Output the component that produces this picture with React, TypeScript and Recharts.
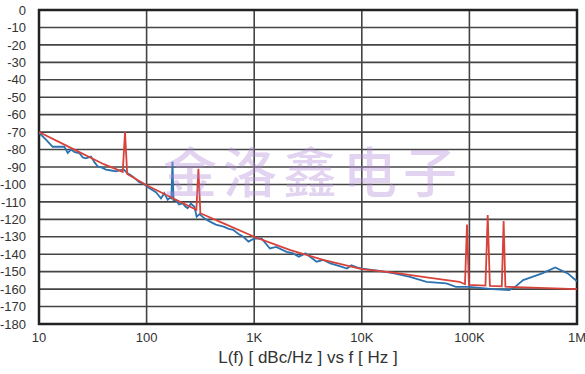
import React from 'react';
import { LineChart, Line, XAxis, YAxis, CartesianGrid, ReferenceArea, Label } from 'recharts';

// offset frequency (Hz) and measured phase noise (dBc/Hz)
const blueFreq = [
    10, 11.5, 13.4, 17.2, 18.5, 19.8, 21.5, 23.7, 25.5, 27.3, 30.4, 33, 35, 38, 41.9, 47, 52, 57, 61.6, 66, 71.5, 78, 85.4, 93,
    102, 112, 122, 130, 136, 146, 157, 165,
    170, 174, 178, 188, 200, 216, 228, 240, 258, 278, 292, 310, 324, 355, 388, 440, 519, 580, 637, 720, 793, 885, 1000, 1170, 1400, 1600,
    2000, 2300, 2600, 3000, 3400, 3800, 4400, 5100, 6000, 7300, 8000, 9000, 10000, 14600, 20000, 28000, 40000, 61000, 75000, 100000,
    165000, 235000, 266000, 316000, 475000, 628000, 820000, 1000000
];
const blueVal = [
    -70.5, -74, -78.4, -78.4, -82, -80, -81.5, -82, -84.5, -85, -84, -87.5, -89.6, -90.2, -91.5, -92, -92.5, -91.8, -91.5, -93.5, -94.8, -96.5, -98.7, -99.5,
    -101.5, -103, -104.4, -106.5, -108, -105, -108.8, -107.5,
    -108, -87, -109, -109, -111.5, -110.8, -112.5, -113.6, -111, -112.8, -118.5, -117, -118, -120, -121.3, -123, -124.2, -125.5, -126, -128.5, -130, -132.8, -131, -131, -136.7, -135.8,
    -138.6, -139.5, -141.4, -139.5, -142, -144.3, -143.3, -145.3, -146.5, -148.2, -146.3, -147.5, -148.2, -149.5, -151, -153, -155.8, -156.7, -158.7, -158.7,
    -160, -160.5, -158.7, -154.8, -151, -147.6, -151, -155.5
];

// spec / limit curve with spurs
const redFreq = [
    10, 20, 40, 60, 63, 66, 100, 290, 303, 316, 519, 1000, 2170, 4370, 10000, 19700, 40000, 81000,
    91000, 95000, 99000, 141000, 148000, 155000, 200000, 208000, 216000, 235000, 1000000
];
const redVal = [
    -70, -79.2, -88.4, -92.8, -70, -94, -100.5, -114.5, -91, -116.5, -122.3, -130, -137.6, -143.3, -148.5, -150.5, -153.3, -155.8,
    -157.2, -123, -157.6, -158, -117.5, -158.2, -158.4, -121, -158.6, -158.7, -160
];

const xTicks = [10, 100, 1000, 10000, 100000, 1000000];
const xTickLabels = ['10', '100', '1K', '10K', '100K', '1M'];
const yTicks = [0, -10, -20, -30, -40, -50, -60, -70, -80, -90, -100, -110, -120, -130, -140, -150, -160, -170, -180];

const blueData = blueFreq.map((f, i) => ({ f, v: blueVal[i] }));
const redData = redFreq.map((f, i) => ({ f, v: redVal[i] }));

const tickStyle = { fontFamily: 'Liberation Sans, Arial, sans-serif', fontSize: 13, fill: '#333' };

const App: React.FC = () => {
    return (
        <div style={{ position: 'absolute', left: 0, top: 0, width: 585, height: 374, background: '#fff' }}>
            <LineChart width={585} height={374} margin={{ top: 10, right: 8, left: 0, bottom: 0 }}>
                <CartesianGrid stroke="#444" strokeWidth={1.6} horizontalValues={yTicks} verticalValues={xTicks} />
                <XAxis
                    dataKey="f"
                    type="number"
                    scale="log"
                    domain={[10, 1000000]}
                    ticks={xTicks}
                    allowDataOverflow
                    tickFormatter={(v: number) => xTickLabels[xTicks.indexOf(v)] ?? ''}
                    tick={tickStyle}
                    tickLine={false}
                    tickSize={0}
                    tickMargin={9}
                    axisLine={false}
                    height={50}
                    interval={0}
                >
                    <Label
                        value="L(f) [ dBc/Hz ]  vs  f  [ Hz ]"
                        position="insideBottom"
                        offset={11}
                        style={{ fontFamily: 'Liberation Sans, Arial, sans-serif', fontSize: 17, fill: '#333', whiteSpace: 'pre' }}
                    />
                </XAxis>
                <YAxis
                    type="number"
                    domain={[-180, 0]}
                    ticks={yTicks}
                    interval={0}
                    tick={tickStyle}
                    tickLine={false}
                    tickSize={0}
                    tickMargin={13}
                    axisLine={false}
                    width={39}
                />
                <Line data={blueData} dataKey="v" stroke="#2b72b0" strokeWidth={1.8} dot={false} isAnimationActive={false} />
                <Line data={redData} dataKey="v" stroke="#d8423a" strokeWidth={1.8} dot={false} isAnimationActive={false} />
                <ReferenceArea x1={10} x2={1000000} y1={-180} y2={0} fill="none" stroke="#222" strokeWidth={2.5} />
            </LineChart>
            <div
                style={{
                    position: 'absolute',
                    left: 163,
                    top: 143,
                    fontFamily: 'Noto Sans CJK SC, sans-serif',
                    fontSize: 54,
                    fontWeight: 500,
                    letterSpacing: 6,
                    color: 'rgba(180, 140, 215, 0.38)',
                    pointerEvents: 'none',
                    whiteSpace: 'nowrap',
                    lineHeight: 1,
                }}
            >
                金洛鑫电子
            </div>
        </div>
    );
};

export default App;
